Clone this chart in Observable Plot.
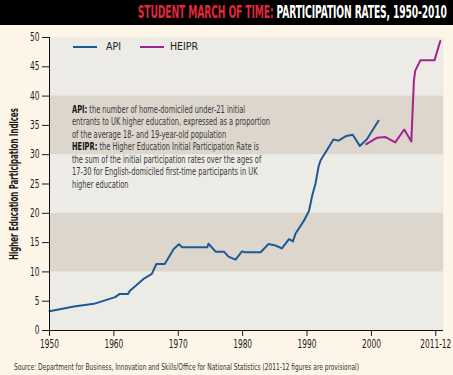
<!DOCTYPE html>
<html><head><meta charset="utf-8">
<script src="https://cdn.jsdelivr.net/npm/d3@7"></script>
<script src="https://cdn.jsdelivr.net/npm/@observablehq/plot@0.6"></script>
<style>
body{margin:0;background:#fdf5e7;}
#wrap{position:relative;width:453px;height:375px;overflow:hidden;background:#fdf5e7;font-family:"Liberation Sans Narrow","DejaVu Sans Condensed",sans-serif;}
#title{height:25px;background:#000;position:relative;}
#title .t{position:absolute;right:6px;top:1px;white-space:nowrap;font:bold 18px "DejaVu Sans Condensed",sans-serif;transform-origin:right center;letter-spacing:-0.2px;}
#title .r{color:#e0283a;}
#title .w{color:#fff;}
#chart{position:absolute;left:0;top:25px;}
.leg{position:absolute;font-size:10.5px;color:#222;white-space:nowrap;}
.legline{position:absolute;height:2px;}
#note{position:absolute;left:72px;top:103.5px;font-size:10px;line-height:12.6px;color:#3a3a3a;white-space:nowrap;transform-origin:left top;}
#note b{color:#111;}
#source{position:absolute;left:14px;top:362px;font-size:8.5px;color:#333;white-space:nowrap;transform-origin:left top;}
</style></head>
<body>
<div id="wrap">
  <div id="title"><span class="t"><span class="r">STUDENT MARCH OF TIME:</span> <span class="w">PARTICIPATION RATES, 1950-2010</span></span></div>
  <div id="chart"></div>
  <div class="legline" id="l1"></div><div class="leg" id="t1"></div>
  <div class="legline" id="l2"></div><div class="leg" id="t2"></div>
  <div id="note"></div>
  <div id="source"></div>
</div>
<script>
// ---- data ----
const apiYear = [1950, 1953.8, 1956.9, 1960.2, 1960.9, 1962.2, 1962.5, 1964.6, 1965.9, 1966.6, 1967.9, 1969.3, 1970.1, 1970.6, 1974.5, 1974.7, 1975.8, 1977.1, 1977.8, 1978.9, 1979.9, 1980.4, 1982.8, 1984.0, 1985.1, 1986.1, 1987.2, 1987.8, 1988.2, 1989.5, 1990.3, 1990.8, 1991.3, 1991.8, 1992.1, 1994.1, 1994.9, 1996.1, 1997.1, 1998.2, 1999.3, 2001.1];
const apiValue = [3.3, 4.1, 4.55, 5.7, 6.25, 6.25, 6.8, 8.8, 9.65, 11.35, 11.35, 13.9, 14.7, 14.2, 14.2, 14.8, 13.45, 13.45, 12.6, 12.1, 13.5, 13.35, 13.35, 14.75, 14.5, 14.0, 15.6, 15.2, 16.5, 18.7, 20.4, 23.0, 25.0, 28.0, 29.0, 32.6, 32.4, 33.2, 33.4, 31.5, 32.65, 35.8];
const heiprYear = [1999.2, 2000.9, 2002.2, 2003.7, 2005.1, 2006.2, 2006.6, 2006.8, 2007.6, 2009.8, 2010.7];
const heiprValue = [31.8, 32.9, 33.0, 32.1, 34.3, 32.25, 42.6, 44.3, 46.1, 46.1, 49.4];
const seriesNames = ["API", "HEIPR"];
const seriesColors = ["#1b5a97", "#a2228e"];
const xTicks = [1950, 1960, 1970, 1980, 1990, 2000, 2010];
const xTickLabels = ["1950", "1960", "1970", "1980", "1990", "2000", "2011-12"];
const yTicks = [0, 5, 10, 15, 20, 25, 30, 35, 40, 45, 50];
const bandLo = [10, 30];
const bandHi = [20, 40];
const yLabel = "Higher Education Participation Indices";
const noteLines = [
  ["API:", " the number of home-domiciled under-21 initial"],
  ["", "entrants to UK higher education, expressed as a proportion"],
  ["", "of the average 18- and 19-year-old population"],
  ["HEIPR:", " the Higher Education Initial Participation Rate is"],
  ["", "the sum of the initial participation rates over the ages of"],
  ["", "17-30 for English-domiciled first-time participants in UK"],
  ["", "higher education"]
];
const sourceText = "Source: Department for Business, Innovation and Skills/Office for National Statistics (2011-12 figures are provisional)";

// ---- build ----
const api = apiYear.map((x, i) => ({x, y: apiValue[i]}));
const heipr = heiprYear.map((x, i) => ({x, y: heiprValue[i]}));
const bands = bandLo.map((lo, i) => ({lo, hi: bandHi[i]}));

const chart = Plot.plot({
  width: 453,
  height: 330,
  marginTop: 12,
  marginBottom: 25,
  marginLeft: 49,
  marginRight: 10,
  style: {fontFamily: "'Liberation Sans Narrow','DejaVu Sans Condensed',sans-serif", fontSize: "11.5px", color: "#1a1a1a", background: "transparent"},
  x: {domain: [1950, 2011.2]},
  y: {domain: [0, 50]},
  marks: [
    Plot.frame({fill: "#ecebe6", stroke: null}),
    Plot.rect(bands, {y1: "lo", y2: "hi", fill: "#ddd6cd"}),
    Plot.line(api, {x: "x", y: "y", stroke: seriesColors[0], strokeWidth: 2}),
    Plot.line(heipr, {x: "x", y: "y", stroke: seriesColors[1], strokeWidth: 2}),
    Plot.axisX({ticks: xTicks, tickSize: 6, tickPadding: 3, label: null,
      tickFormat: d => xTickLabels[xTicks.indexOf(d)]}),
    Plot.axisY({ticks: yTicks, tickSize: 7, tickPadding: 3, label: null}),
    Plot.ruleY([0], {stroke: "#111"}),
    Plot.ruleX([1950], {stroke: "#111"}),
    Plot.text([yLabel], {frameAnchor: "left", textAnchor: "middle", rotate: -90, dx: -35, fontWeight: "bold", fontSize: 12, fill: "#1a1a1a"})
  ]
});
document.getElementById("chart").appendChild(chart);

// condense a text horizontally (in its own direction) around its anchor
function condense(t, factor) {
  const tr = t.getAttribute("transform");
  if (tr) {
    t.setAttribute("transform", tr + ` scale(${factor},1)`);
  } else {
    const x = +(t.getAttribute("x") || 0), y = +(t.getAttribute("y") || 0);
    t.removeAttribute("x"); t.removeAttribute("y");
    t.setAttribute("transform", `translate(${x},${y}) scale(${factor},1)`);
  }
}
chart.querySelectorAll('g[aria-label="x-axis tick label"] text, g[aria-label="y-axis tick label"] text').forEach(t => condense(t, 0.72));
chart.querySelectorAll('g[aria-label="text"] text').forEach(t => {
  const w = t.getComputedTextLength();
  condense(t, 152 / w);
});

// legend
const legPos = [{lx: 73, tx: 106}, {lx: 140, tx: 170}];
seriesNames.forEach((n, i) => {
  const l = document.getElementById("l" + (i + 1));
  l.style.left = legPos[i].lx + "px"; l.style.top = "46px"; l.style.width = "24px"; l.style.background = seriesColors[i];
  const t = document.getElementById("t" + (i + 1));
  t.textContent = n; t.style.left = legPos[i].tx + "px"; t.style.top = "40px";
});

// note
const note = document.getElementById("note");
noteLines.forEach(([b, rest]) => {
  const d = document.createElement("div");
  if (b) { const bb = document.createElement("b"); bb.textContent = b; d.appendChild(bb); }
  d.appendChild(document.createTextNode(rest));
  note.appendChild(d);
});
document.getElementById("source").textContent = sourceText;

function fitW(el, target) {
  const w = el.getBoundingClientRect().width;
  if (w > 0) el.style.transform = `scaleX(${target / w})`;
}
{
  const r = document.createRange(); r.selectNodeContents(note.children[1]);
  const tw = r.getBoundingClientRect().width;
  note.style.transform = `scaleX(${198 / tw})`;
}
fitW(document.getElementById("source"), 345);
fitW(document.querySelector("#title .t"), 309);
</script>
</body></html>
